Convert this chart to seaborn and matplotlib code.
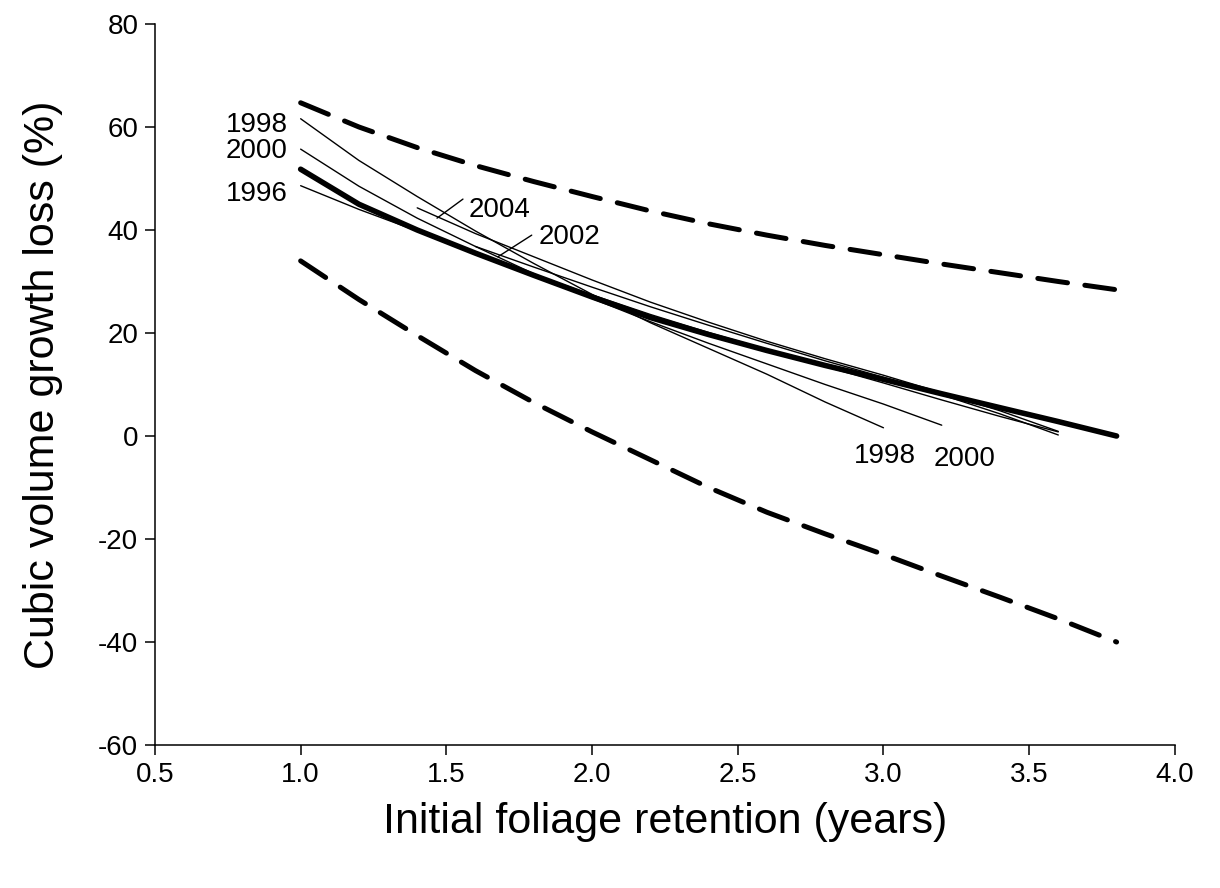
import matplotlib
matplotlib.use("Agg")
import matplotlib.pyplot as plt
import seaborn as sns
import pandas as pd

# ---- data ----
x_full = [1.0, 1.2, 1.4, 1.6, 1.8, 2.0, 2.2, 2.4, 2.6, 2.8, 3.0, 3.2, 3.4, 3.6, 3.8]
pooled = [51.8, 45.0, 40.0, 35.5, 31.2, 27.0, 23.0, 19.7, 16.6, 13.7, 11.0, 8.2, 5.5, 2.8, 0.0]
upper_ci = [64.7, 60.0, 56.0, 52.5, 49.4, 46.5, 43.7, 41.2, 39.0, 37.0, 35.2, 33.4, 31.7, 30.0, 28.4]
lower_ci = [34.0, 26.5, 19.5, 12.7, 6.5, 0.8, -4.6, -10.0, -14.8, -19.0, -23.0, -27.2, -31.3, -35.5, -40.0]

x_1996 = [1.0, 1.2, 1.4, 1.6, 1.8, 2.0, 2.2, 2.4, 2.6, 2.8, 3.0, 3.2, 3.4, 3.6]
y_1996 = [48.6, 44.0, 39.8, 35.5, 31.4, 27.4, 23.6, 20.1, 16.8, 13.5, 10.3, 7.0, 3.8, 0.8]

x_1998 = [1.0, 1.2, 1.4, 1.6, 1.8, 2.0, 2.2, 2.4, 2.6, 2.8, 3.0]
y_1998 = [61.6, 53.5, 46.5, 39.8, 33.5, 27.5, 22.0, 17.0, 12.0, 6.6, 1.6]

x_2000 = [1.0, 1.2, 1.4, 1.6, 1.8, 2.0, 2.2, 2.4, 2.6, 2.8, 3.0, 3.2]
y_2000 = [55.7, 48.5, 42.3, 36.8, 31.5, 26.7, 22.2, 18.0, 14.0, 10.0, 6.2, 2.1]

x_2002 = [1.6, 1.8, 2.0, 2.2, 2.4, 2.6, 2.8, 3.0, 3.2, 3.4, 3.6]
y_2002 = [36.8, 32.8, 28.9, 25.1, 21.5, 18.0, 14.6, 11.4, 8.0, 4.3, 0.2]

x_2004 = [1.4, 1.6, 1.8, 2.0, 2.2, 2.4, 2.6, 2.8, 3.0, 3.2, 3.4, 3.6]
y_2004 = [44.3, 39.3, 34.8, 30.3, 26.0, 22.1, 18.4, 15.0, 11.8, 8.4, 4.9, 0.9]

x_ticks = [0.5, 1.0, 1.5, 2.0, 2.5, 3.0, 3.5, 4.0]
y_ticks = [-60, -40, -20, 0, 20, 40, 60, 80]

# ---- style ----
sns.set_theme(style="ticks")
plt.rcParams["font.family"] = ["Liberation Sans", "DejaVu Sans"]
for k in ("text.color", "axes.labelcolor", "xtick.color", "ytick.color",
          "axes.edgecolor"):
    plt.rcParams[k] = "black"

fig = plt.figure(figsize=(12.2, 8.88), dpi=100)
ax = fig.add_axes([0.127, 0.161, 0.836, 0.812])

def draw(x, y, **kw):
    df = pd.DataFrame({"x": x, "y": y})
    sns.lineplot(data=df, x="x", y="y", ax=ax, color="black", sort=False,
                 estimator=None, **kw)

for ci in (upper_ci, lower_ci):
    draw(x_full, ci, linewidth=3.6)
    line = ax.lines[-1]
    line.set_dashes((6.0, 3.5))
    line.set_dash_capstyle("round")

for xs, ys in [(x_1996, y_1996), (x_1998, y_1998), (x_2000, y_2000),
               (x_2002, y_2002), (x_2004, y_2004)]:
    draw(xs, ys, linewidth=1.0)

draw(x_full, pooled, linewidth=4.0)
ax.lines[-1].set_solid_capstyle("round")

# ---- labels on the lines ----
fs_lab = 20
ax.text(0.955, 60.4, "1998", ha="right", va="center", fontsize=fs_lab)
ax.text(0.955, 55.3, "2000", ha="right", va="center", fontsize=fs_lab)
ax.text(0.955, 47.0, "1996", ha="right", va="center", fontsize=fs_lab)
ax.text(1.575, 43.9, "2004", ha="left", va="center", fontsize=fs_lab)
ax.text(1.815, 38.6, "2002", ha="left", va="center", fontsize=fs_lab)
ax.text(3.005, -3.9, "1998", ha="center", va="center", fontsize=fs_lab)
ax.text(3.28, -4.5, "2000", ha="center", va="center", fontsize=fs_lab)
ax.plot([1.468, 1.557], [42.3, 46.0], color="black", linewidth=1.0)
ax.plot([1.677, 1.793], [34.8, 39.0], color="black", linewidth=1.0)

# ---- axes ----
ax.set_xlim(0.5, 4.0)
ax.set_ylim(-60, 80)
ax.set_xticks(x_ticks)
ax.set_xticklabels([f"{v:.1f}" for v in x_ticks])
ax.set_yticks(y_ticks)
ax.set_yticklabels([str(v) for v in y_ticks])
ax.tick_params(axis="both", direction="out", length=7, width=1.1,
               labelsize=20, color="black", labelcolor="black", pad=5)
for s in ("left", "bottom"):
    ax.spines[s].set_linewidth(1.1)
    ax.spines[s].set_color("black")
sns.despine(ax=ax)
ax.set_xlabel("Initial foliage retention (years)", fontsize=31, labelpad=10)
ax.set_ylabel("Cubic volume growth loss (%)", fontsize=31, labelpad=25)
ax.grid(False)

fig.savefig("out.png", dpi=100, facecolor="white")
